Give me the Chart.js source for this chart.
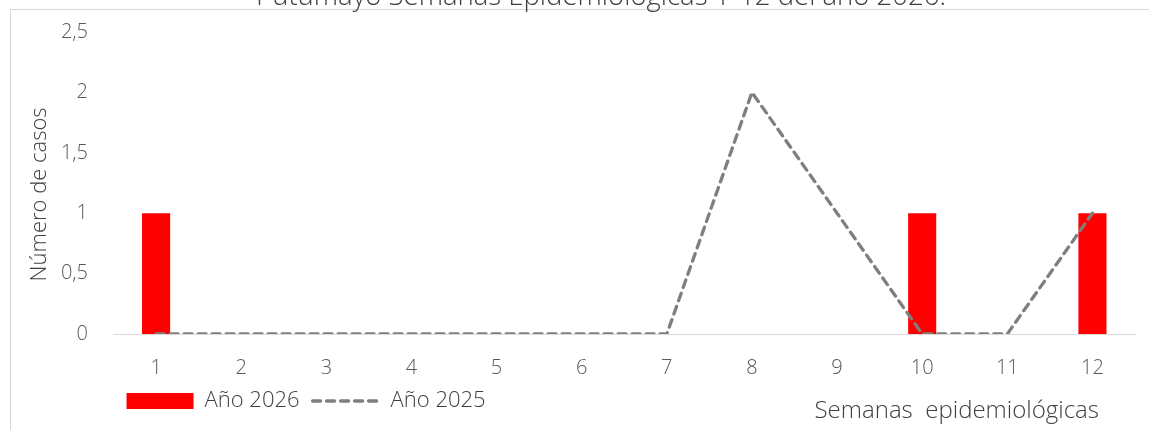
<!DOCTYPE html>
<html>
<head>
<meta charset="utf-8">
<script src="https://cdn.jsdelivr.net/npm/chart.js"></script>
<style>
  html, body { margin: 0; padding: 0; background: #fff; }
  #wrap { position: relative; width: 1149px; height: 430px; overflow: hidden; }
  #frame { position: absolute; left: 10px; top: 9px; right: -3px; bottom: -3px; border: 1px solid #d9d9d9; }
  canvas { position: absolute; left: 0; top: 0; }
</style>
</head>
<body>
<div id="wrap">
  <div id="frame"></div>
  <canvas id="casesChart" width="1149" height="430"></canvas>
</div>
<script>
// data
const weeks = ['1', '2', '3', '4', '5', '6', '7', '8', '9', '10', '11', '12'];
const cases2026 = [1, 0, 0, 0, 0, 0, 0, 0, 0, 1, 0, 1];
const cases2025 = [0, 0, 0, 0, 0, 0, 0, 2, 1, 0, 0, 1];
const yTicks = ['0', '0,5', '1', '1,5', '2', '2,5'];

const chartTitle = 'Putumayo Semanas Epidemiológicas 1-12 del año 2026.';
const xTitle = 'Semanas  epidemiológicas';
const yTitle = 'Número de casos    '; // trailing spaces push it a bit lower, like the original

const textColor = '#404040';
const tickColor = '#595959';
const fontFamily = '"Open Sans", "Noto Sans", sans-serif';
const dash = [8, 6];

// title is cut off by the top of the frame, x title sits next to the legend
const extraText = {
  id: 'extraText',
  afterDraw(chart) {
    const { ctx, chartArea } = chart;
    ctx.save();
    ctx.fillStyle = textColor;
    ctx.textBaseline = 'alphabetic';
    ctx.font = '300 27.5px ' + fontFamily;
    ctx.textAlign = 'center';
    ctx.fillText(chartTitle, 601, 5);
    ctx.font = '300 24px ' + fontFamily;
    ctx.textAlign = 'right';
    ctx.fillText(xTitle, chartArea.right - 36, 418);
    ctx.restore();
  }
};

document.addEventListener('DOMContentLoaded', function () {
  const ctx = document.getElementById('casesChart').getContext('2d');

  const config = {
    type: 'bar',
    data: {
      labels: weeks,
      datasets: [{
        label: 'Año 2026',
        data: cases2026,
        backgroundColor: '#ff0000',
        borderWidth: 0,
        categoryPercentage: 1,
        barPercentage: 0.33,
        pointStyle: 'rect',
        order: 1
      },
      {
        type: 'line',
        label: 'Año 2025',
        data: cases2025,
        borderColor: '#7f7f7f',
        backgroundColor: '#7f7f7f',
        borderWidth: 3.3,
        borderDash: dash,
        borderCapStyle: 'round',
        pointRadius: 0,
        pointStyle: 'line',
        tension: 0,
        order: 0
      }]
    },
    options: {
      responsive: false,
      animation: false,
      layout: { padding: { top: 32, left: 27, right: 14, bottom: 8 } },
      plugins: {
        title: { display: false },
        tooltip: { enabled: false },
        legend: {
          position: 'bottom',
          align: 'start',
          fullSize: false,
          labels: {
            usePointStyle: true,
            pointStyleWidth: 67,
            boxHeight: 16,
            padding: 13,
            color: textColor,
            font: { family: fontFamily, size: 22, weight: '300' },
            generateLabels(chart) {
              const items = Chart.defaults.plugins.legend.labels.generateLabels(chart);
              items.sort((a, b) => a.datasetIndex - b.datasetIndex);
              items[1].lineDash = dash;
              items[1].lineWidth = 3.3;
              items[1].lineCap = 'round';
              items[1].strokeStyle = '#7f7f7f';
              return items;
            }
          }
        }
      },
      scales: {
        x: {
          grid: { display: false, drawTicks: false },
          border: { color: '#d9d9d9', width: 1 },
          ticks: { color: tickColor, padding: 22, font: { family: fontFamily, size: 20, weight: '300' } },
          afterFit(scale) { scale.height -= 25; }
        },
        y: {
          min: 0,
          max: 2.5,
          grid: { display: false, drawTicks: true, tickLength: 20 },
          border: { display: false },
          ticks: {
            stepSize: 0.5,
            padding: 5.5,
            color: tickColor,
            font: { family: fontFamily, size: 20, weight: '300' },
            callback: (value, index) => yTicks[index]
          },
          title: {
            display: true,
            text: yTitle,
            color: textColor,
            padding: { top: 0, bottom: 2 },
            font: { family: fontFamily, size: 22, weight: '300' }
          }
        }
      }
    },
    plugins: [extraText]
  };

  new Chart(ctx, config);
});
</script>
</body>
</html>
